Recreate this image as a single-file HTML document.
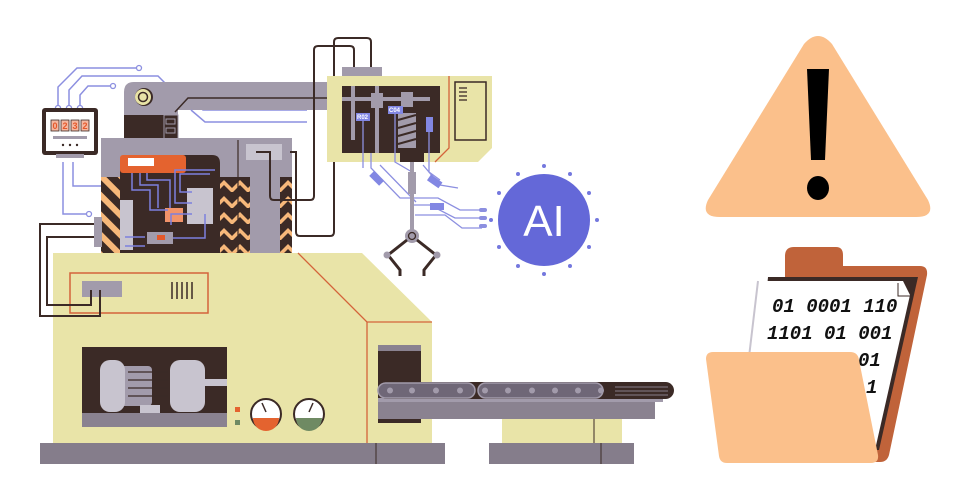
<!DOCTYPE html>
<html><head><meta charset="utf-8"><style>
html,body{margin:0;padding:0;background:#fff;}
svg{display:block;}
</style></head><body>
<svg width="968" height="500" viewBox="0 0 968 500" xmlns="http://www.w3.org/2000/svg" font-family="Liberation Sans, sans-serif">
<defs>
<pattern id="haz" width="14" height="14" patternUnits="userSpaceOnUse" patternTransform="rotate(-45)">
<rect width="14" height="14" fill="#3b2a26"/><rect width="6" height="14" fill="#f7b87a"/>
</pattern>
<pattern id="haz2" width="16" height="16" patternUnits="userSpaceOnUse">
<rect width="16" height="16" fill="#3b2a26"/>
<path d="M0 4 L8 12 L16 4 L16 9 L8 17 L0 9Z" fill="#f7b87a"/>
</pattern>
</defs>

<g fill="none" stroke="#8c8fe0" stroke-width="1.5">
<path d="M58 108 V87 L77 68 H139"/>
<path d="M69 108 V90 L82 76 H158 L165 83"/>
<path d="M80 108 V95 L88 86 H113"/>
<path d="M63 162 V214 H89"/>
<path d="M73 162 V186 H123"/>
<path d="M190 98 L203 110 H307"/>
</g>
<g fill="#fff" stroke="#8c8fe0" stroke-width="1.3">
<circle cx="139" cy="68" r="2.5"/><circle cx="113" cy="86" r="2.5"/><circle cx="58" cy="108" r="2.5"/><circle cx="69" cy="108" r="2.5"/><circle cx="80" cy="108" r="2.5"/><circle cx="89" cy="214" r="2.5"/>
</g>

<path d="M124 92 Q124 82 134 82 H330 V110 H178 V139 H124Z" fill="#a29bab"/>
<rect x="124" y="115" width="54" height="24" fill="#3b2a26"/>
<rect x="164" y="115" width="14" height="24" fill="#3b2a26" stroke="#a29bab"/>
<rect x="166" y="119" width="9" height="5" fill="none" stroke="#a29bab"/>
<rect x="166" y="128" width="9" height="5" fill="none" stroke="#a29bab"/>
<circle cx="144" cy="97" r="9" fill="#3b2a26"/><circle cx="143" cy="97" r="8" fill="#e8e3a6"/><circle cx="143" cy="97" r="4.5" fill="none" stroke="#3b2a26" stroke-width="1.5"/>
<path d="M175 112 L188 98 H330" fill="none" stroke="#3b2a26" stroke-width="1.5"/>
<path d="M191 110 L205 122 H307" fill="none" stroke="#8c8fe0" stroke-width="1.5"/>

<rect x="42" y="108" width="56" height="47" rx="3" fill="#3b2a26"/>
<rect x="46" y="112" width="48" height="39" fill="#fff"/>
<rect x="56" y="154" width="28" height="4" fill="#a29bab"/>
<g fill="#f5b7a0" stroke="#3b2a26" stroke-width="0.8">
<rect x="51" y="120" width="8" height="11"/><rect x="61" y="120" width="8" height="11"/><rect x="71" y="120" width="8" height="11"/><rect x="81" y="120" width="8" height="11"/></g>
<g font-size="9" fill="#e4582a" text-anchor="middle" font-weight="bold"><text x="55" y="129">0</text><text x="65" y="129">2</text><text x="75" y="129">3</text><text x="85" y="129">2</text></g>
<rect x="53" y="136" width="34" height="3" fill="#a29bab"/>
<g fill="#3b2a26"><circle cx="63" cy="145" r="1.2"/><circle cx="70" cy="145" r="1.2"/><circle cx="77" cy="145" r="1.2"/></g>

<path d="M53 253 H362 L432 322 V443 H53Z" fill="#e9e4a8"/>
<path d="M298 253 L367 322 V443 M367 322 H432" fill="none" stroke="#d4633a" stroke-width="1.3"/>
<path d="M70 273 H208 V313 H70Z" fill="none" stroke="#d4633a" stroke-width="1.5"/>
<rect x="82" y="281" width="40" height="16" fill="#a29bab"/>
<g stroke="#3b2a26" stroke-width="1.5"><line x1="172" y1="282" x2="172" y2="299"/><line x1="177" y1="282" x2="177" y2="299"/><line x1="182" y1="282" x2="182" y2="299"/><line x1="187" y1="282" x2="187" y2="299"/><line x1="192" y1="282" x2="192" y2="299"/></g>

<rect x="101" y="138" width="191" height="115" fill="#a29bab"/>
<rect x="101" y="177" width="19" height="76" fill="url(#haz)"/>
<path d="M120 253 V163 Q120 155 128 155 H212 Q220 155 220 163 V253Z" fill="#3b2a26"/>
<rect x="220" y="177" width="30" height="76" fill="url(#haz2)"/>
<rect x="280" y="177" width="12" height="76" fill="url(#haz2)"/>
<rect x="120" y="155" width="66" height="18" rx="3" fill="#e4632f"/>
<rect x="128" y="158" width="26" height="8" fill="#fff"/>
<rect x="246" y="144" width="36" height="16" fill="#c8c4cf"/>
<line x1="238" y1="140" x2="238" y2="253" stroke="#3b2a26" stroke-width="1.2"/>
<rect x="120" y="200" width="13" height="50" fill="#c8c4cf"/>
<rect x="187" y="188" width="26" height="36" fill="#c8c4cf"/>
<rect x="165" y="208" width="18" height="14" fill="#f2936a"/>
<rect x="147" y="232" width="26" height="12" fill="#a29bab"/><rect x="157" y="235" width="8" height="5" fill="#e4582a"/>
<g fill="none" stroke="#7c80de" stroke-width="1.5">
<path d="M132 173 V190 L150 190 V210 H168"/><path d="M140 173 V185 L158 185 V208"/><path d="M147 173 V180 L170 180 V208"/>
<path d="M192 192 H180 V174 H210"/><path d="M192 203 H175 V170 H215"/><path d="M192 214 H171 V225"/>
<path d="M125 237 H145"/><path d="M125 246 H145"/><path d="M173 238 H205 V214"/>
</g>
<rect x="94" y="217" width="8" height="30" fill="#a29bab"/>

<g fill="none" stroke="#3b2a26" stroke-width="2">
<path d="M94 224 H40 V316 H100 V290"/>
<path d="M94 237 H47 V305 H91 V290"/>
<path d="M256 152 H270 V196 Q270 200 274 200 H310 Q314 200 314 196 V50 Q314 46 318 46 H350 Q354 46 354 50 V67"/>
<path d="M290 152 H296 V232 Q296 236 300 236 H330 Q334 236 334 232 V42 Q334 38 338 38 H367 Q371 38 371 42 V67"/>
</g>

<rect x="342" y="67" width="40" height="9" fill="#a29bab"/>
<path d="M327 76 H492 V148 L478 162 H327Z" fill="#e9e4a8"/>
<rect x="342" y="86" width="98" height="67" fill="#3b2a26"/>
<path d="M449 76 V148 L435 162" fill="none" stroke="#d4633a" stroke-width="1.3"/>
<rect x="455" y="82" width="31" height="58" fill="none" stroke="#3b2a26" stroke-width="1.5"/>
<g stroke="#3b2a26" stroke-width="1.3"><line x1="459" y1="88" x2="467" y2="88"/><line x1="459" y1="92" x2="467" y2="92"/><line x1="459" y1="96" x2="467" y2="96"/><line x1="459" y1="100" x2="467" y2="100"/></g>
<rect x="342" y="97" width="88" height="4" fill="#a29bab"/>
<rect x="351" y="86" width="4" height="54" fill="#a29bab"/>
<rect x="375" y="86" width="4" height="67" fill="#a29bab"/>
<rect x="371" y="93" width="12" height="15" fill="#a29bab"/>
<rect x="401" y="92" width="12" height="15" fill="#a29bab"/>
<rect x="398" y="113" width="18" height="35" fill="#a29bab"/>
<g stroke="#3b2a26" stroke-width="2"><line x1="398" y1="120" x2="416" y2="115"/><line x1="398" y1="128" x2="416" y2="123"/><line x1="398" y1="136" x2="416" y2="131"/><line x1="398" y1="144" x2="416" y2="139"/></g>
<rect x="400" y="153" width="24" height="9" fill="#3b2a26"/>
<g fill="#8287e3"><rect x="356" y="113" width="14" height="8"/><rect x="388" y="106" width="15" height="8"/><rect x="426" y="117" width="7" height="15"/></g>
<g font-size="6" fill="#fff" font-weight="bold"><text x="357" y="119">R02</text><text x="389" y="112">C04</text></g>
<g fill="none" stroke="#8c8fe0" stroke-width="1.3">
<path d="M363 121 V168"/><path d="M371 153 V168 L400 198 H438 L460 210 H480"/><path d="M395 114 V162 L412 172"/><path d="M429 132 V172 L440 180"/>
<path d="M380 165 L416 202"/><path d="M423 165 L440 185 L458 188"/><path d="M413 205 H430 L455 218 H482"/><path d="M415 215 H445 L462 228 H482"/>
</g>
<rect x="370" y="175" width="14" height="7" fill="#8287e3" transform="rotate(45 377 178)"/>
<rect x="428" y="178" width="14" height="7" fill="#8287e3" transform="rotate(35 435 181)"/>
<rect x="430" y="203" width="14" height="7" fill="#8287e3"/>
<g fill="#8c8fe0"><rect x="479" y="208" width="8" height="4" rx="2"/><rect x="479" y="216" width="8" height="4" rx="2"/><rect x="479" y="224" width="8" height="4" rx="2"/></g>

<rect x="410" y="162" width="4" height="68" fill="#a29bab"/>
<rect x="408" y="172" width="8" height="22" fill="#a29bab"/>
<circle cx="412" cy="236" r="7" fill="#a29bab"/><circle cx="412" cy="236" r="3.5" fill="none" stroke="#3b2a26" stroke-width="1.3"/>
<path d="M407 240 L388 255 L400 270 V276 M417 240 L436 255 L424 270 V276" fill="none" stroke="#3b2a26" stroke-width="3"/>
<circle cx="387" cy="255" r="3.5" fill="#a29bab"/><circle cx="437" cy="255" r="3.5" fill="#a29bab"/>

<circle cx="544" cy="220" r="46" fill="#6468d8"/>
<text x="544" y="236" font-size="44" fill="#fff" text-anchor="middle">AI</text>
<g fill="#7478de">
<circle cx="544" cy="166" r="2"/><circle cx="544" cy="274" r="2"/><circle cx="491" cy="220" r="2"/><circle cx="597" cy="220" r="2"/>
<circle cx="518" cy="174" r="2"/><circle cx="570" cy="174" r="2"/><circle cx="518" cy="266" r="2"/><circle cx="570" cy="266" r="2"/>
<circle cx="499" cy="193" r="2"/><circle cx="589" cy="193" r="2"/><circle cx="499" cy="247" r="2"/><circle cx="589" cy="247" r="2"/>
</g>

<rect x="82" y="347" width="145" height="80" fill="#3b2a26"/>
<rect x="82" y="413" width="145" height="14" fill="#8a8290"/>
<rect x="112" y="366" width="40" height="40" rx="4" fill="#a29bab"/>
<rect x="100" y="360" width="25" height="52" rx="10" fill="#c8c4cf"/>
<rect x="170" y="360" width="35" height="52" rx="10" fill="#c8c4cf"/>
<g stroke="#3b2a26" stroke-width="1.3"><line x1="128" y1="372" x2="168" y2="372"/><line x1="128" y1="380" x2="168" y2="380"/><line x1="128" y1="388" x2="168" y2="388"/><line x1="128" y1="396" x2="168" y2="396"/></g>
<rect x="205" y="379" width="22" height="7" fill="#c8c4cf"/>
<rect x="140" y="405" width="20" height="8" fill="#c8c4cf"/>
<rect x="235" y="407" width="5" height="5" fill="#e4632f"/><rect x="235" y="420" width="5" height="5" fill="#6f8a63"/>
<circle cx="266" cy="414" r="15" fill="#fff" stroke="#3b2a26" stroke-width="2"/>
<path d="M253 418 A13 13 0 0 0 279 418Z" fill="#e4632f"/>
<circle cx="309" cy="414" r="15" fill="#fff" stroke="#3b2a26" stroke-width="2"/>
<path d="M296 418 A13 13 0 0 0 322 418Z" fill="#6f8a63"/>
<line x1="266" y1="412" x2="262" y2="403" stroke="#3b2a26" stroke-width="1.5"/>
<line x1="309" y1="412" x2="313" y2="403" stroke="#3b2a26" stroke-width="1.5"/>

<rect x="378" y="345" width="43" height="78" fill="#3b2a26"/>
<rect x="378" y="345" width="43" height="6" fill="#8a8290"/>
<rect x="378" y="401" width="277" height="18" fill="#8a8290"/>
<rect x="378" y="398" width="285" height="4" fill="#a29bab"/>
<rect x="378" y="382" width="296" height="17" rx="8.5" fill="#3b2a26"/>
<rect x="378" y="383" width="97" height="15" rx="7.5" fill="#6f6777" stroke="#a29bab" stroke-width="1.5"/>
<rect x="478" y="383" width="125" height="15" rx="7.5" fill="#6f6777" stroke="#a29bab" stroke-width="1.5"/>
<g fill="#a29bab"><circle cx="390" cy="390.5" r="3"/><circle cx="412" cy="390.5" r="3"/><circle cx="436" cy="390.5" r="3"/><circle cx="460" cy="390.5" r="3"/><circle cx="485" cy="390.5" r="3"/><circle cx="508" cy="390.5" r="3"/><circle cx="532" cy="390.5" r="3"/><circle cx="555" cy="390.5" r="3"/><circle cx="578" cy="390.5" r="3"/><circle cx="601" cy="390.5" r="3"/></g>
<g stroke="#a29bab" stroke-width="0.8"><line x1="615" y1="387" x2="668" y2="387"/><line x1="615" y1="391" x2="668" y2="391"/><line x1="615" y1="395" x2="668" y2="395"/></g>
<rect x="502" y="419" width="120" height="24" fill="#e9e4a8"/>
<line x1="594" y1="419" x2="594" y2="443" stroke="#3b2a26"/>

<rect x="40" y="443" width="405" height="21" fill="#857d8b"/>
<line x1="376" y1="443" x2="376" y2="464" stroke="#3b2a26"/>
<rect x="489" y="443" width="145" height="21" fill="#857d8b"/>
<line x1="601" y1="443" x2="601" y2="464" stroke="#3b2a26"/>

<path d="M804 44 Q818 28 832 44 L928 200 Q936 217 916 217 H720 Q700 217 708 200Z" fill="#fbc08b"/>
<path d="M807 69 H829 L825 160 H811Z" fill="#000"/>
<ellipse cx="818" cy="188" rx="11" ry="12" fill="#000"/>

<path d="M785 256 Q785 247 794 247 H836 Q843 247 843 255 V266 H920 Q928 266 927 275 L889 455 Q887 462 880 462 H785Z" fill="#c0633a"/>
<path d="M768 277 H918 L879 450 H752Z" fill="#3b2a26"/>
<path d="M758 281 H903 L910 295 L875 450 H738Z" fill="#fff"/>
<path d="M758 281 L738 450" stroke="#c8c4cf" stroke-width="2"/>
<path d="M898 283 V296 H910" fill="none" stroke="#3b2a26" stroke-width="1"/>
<g font-family="Liberation Mono, monospace" font-style="italic" font-weight="bold" font-size="19" fill="#111">
<text x="772" y="312">01 0001 110</text>
<text x="767" y="339">1101 01  001</text>
<text x="858" y="366">01</text>
<text x="866" y="393">1</text>
</g>
<path d="M706 359 Q706 352 713 352 H850 Q858 352 859 360 L878 455 Q879 463 871 463 H727 Q720 463 719 456Z" fill="#fbc08b"/>
</svg>
</body></html>
